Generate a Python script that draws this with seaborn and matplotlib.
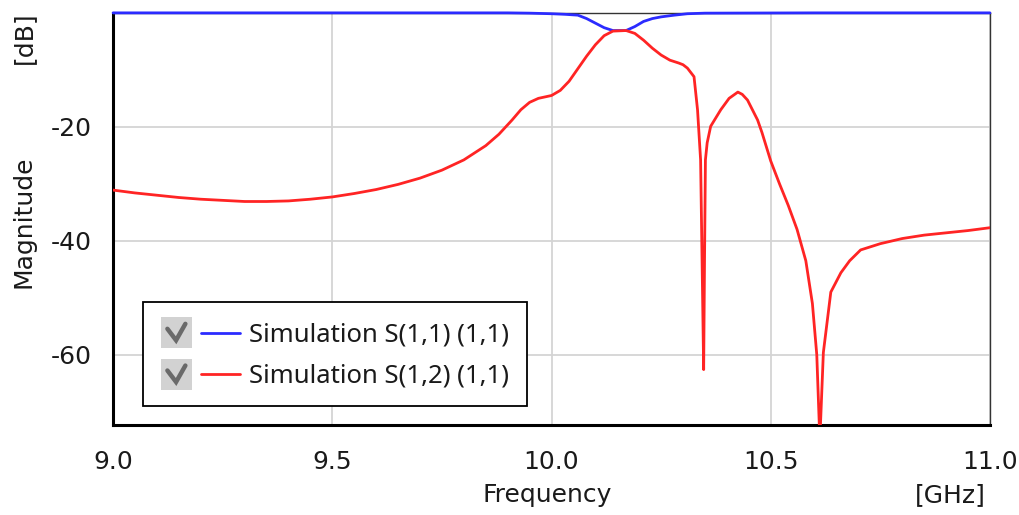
import numpy as np
import pandas as pd
import matplotlib
matplotlib.use('Agg')
import matplotlib.pyplot as plt
import seaborn as sns
from matplotlib.ticker import MultipleLocator
from matplotlib.legend_handler import HandlerBase
from matplotlib.patches import Rectangle
from matplotlib.lines import Line2D

# S(1,1) magnitude
freq_s11 = [9.00, 9.50, 9.90, 9.95, 10.00, 10.03, 10.06, 10.08, 10.10, 10.12, 10.14,
            10.17, 10.19, 10.21, 10.23, 10.25, 10.28, 10.31, 10.35, 10.60, 11.00]
mag_s11 = [0.0, 0.0, 0.0, -0.05, -0.15, -0.25, -0.4, -1.0, -1.8, -2.6, -3.1,
           -3.1, -2.4, -1.5, -1.0, -0.7, -0.4, -0.15, -0.05, 0.0, 0.0]

# S(1,2) magnitude
freq_s12 = [9.00, 9.05, 9.10, 9.15, 9.20, 9.25, 9.30, 9.35, 9.40, 9.45, 9.50, 9.55,
            9.60, 9.65, 9.70, 9.75, 9.80, 9.85, 9.88, 9.91, 9.93, 9.95, 9.97, 10.00,
            10.02, 10.04, 10.06, 10.08, 10.10, 10.12, 10.14, 10.17, 10.19, 10.21,
            10.23, 10.25, 10.27, 10.29, 10.30, 10.31, 10.325, 10.333, 10.340, 10.347,
            10.349, 10.351, 10.355, 10.363, 10.386, 10.405, 10.425, 10.435, 10.447,
            10.47, 10.48, 10.50, 10.52, 10.54, 10.56, 10.58, 10.595, 10.605, 10.612,
            10.62, 10.637, 10.66, 10.68, 10.705, 10.75, 10.80, 10.85, 10.90, 10.95, 11.00]
mag_s12 = [-31.1, -31.6, -32.0, -32.4, -32.7, -32.9, -33.1, -33.1, -33.0, -32.7, -32.3, -31.7,
           -31.0, -30.1, -29.0, -27.6, -25.8, -23.3, -21.3, -18.8, -17.0, -15.7, -15.0, -14.5,
           -13.6, -12.0, -9.8, -7.6, -5.6, -4.0, -3.2, -3.1, -3.6, -4.8,
           -6.2, -7.4, -8.3, -8.8, -9.1, -9.7, -11.2, -17.0, -25.8, -62.6,
           -43.0, -25.8, -22.8, -19.9, -17.0, -15.0, -13.9, -14.3, -15.3,
           -18.8, -21.0, -26.0, -30.0, -33.8, -38.0, -43.5, -51.0, -60.0, -75.0,
           -59.6, -49.0, -45.6, -43.5, -41.6, -40.5, -39.6, -39.0, -38.6, -38.2, -37.7]

labels = ['Simulation S(1,1) (1,1)', 'Simulation S(1,2) (1,1)']
colors = ['#2b2bff', '#ff2424']

df = pd.concat([
    pd.DataFrame({'Frequency': freq_s11, 'Magnitude': mag_s11, 'Trace': labels[0]}),
    pd.DataFrame({'Frequency': freq_s12, 'Magnitude': mag_s12, 'Trace': labels[1]}),
])

sns.set_style('white')
plt.rcParams['font.family'] = ['DejaVu Sans']


class CheckedLine(HandlerBase):
    # grey check box followed by the line sample
    def create_artists(self, legend, orig, xdescent, ydescent, width, height, fontsize, trans):
        box = 31 * 72 / 100.0
        cy = height / 2 - ydescent
        x0 = -xdescent
        rect = Rectangle((x0, cy - box / 2), box, box, facecolor='#d2d2d2',
                         edgecolor='none', transform=trans)
        tick = Line2D([x0 + box * 0.22, x0 + box * 0.5, x0 + box * 0.8],
                      [cy + box * 0.12, cy - box * 0.25, cy + box * 0.28],
                      color='#6a6a6a', lw=3.2, solid_joinstyle='miter', transform=trans)
        line = Line2D([x0 + box + 7, x0 + width], [cy, cy], color=orig.get_color(),
                      lw=2.0, transform=trans)
        return [rect, tick, line]


fig = plt.figure(figsize=(10.19, 5.15), dpi=100)
ax = fig.add_axes([0.111, 0.175, 0.8605, 0.8])

for lab, col in zip(labels, colors):
    sns.lineplot(data=df[df['Trace'] == lab], x='Frequency', y='Magnitude', ax=ax,
                 color=col, lw=2.0, estimator=None, sort=False, label=lab, zorder=3)
ax.get_lines()[0].set_clip_on(False)

ax.set_xlim(9.0, 11.0)
ax.set_ylim(-72.3, 0)
ax.xaxis.set_major_locator(MultipleLocator(0.5))
ax.xaxis.set_minor_locator(MultipleLocator(0.1))
ax.yaxis.set_major_locator(MultipleLocator(20))
ax.yaxis.set_minor_locator(MultipleLocator(4))
ax.xaxis.set_major_formatter(plt.FuncFormatter(lambda v, p: f'{v:.1f}'))
ax.yaxis.set_major_formatter(plt.FuncFormatter(lambda v, p: f'{v:.0f}'))
ax.set_yticks([-60, -40, -20])

ax.grid(True, which='major', color='#d4d4d4', lw=1.3)
ax.tick_params(axis='x', which='major', direction='in', length=5, width=1.5,
               labelsize=18, pad=18, colors='black')
ax.tick_params(axis='x', which='minor', direction='out', length=3, width=1, color='#808080')
ax.tick_params(axis='y', which='major', direction='out', length=6, width=1.5,
               labelsize=18, pad=9.5, colors='black')
ax.tick_params(axis='y', which='minor', direction='out', length=3, width=1, color='#808080')
ax.tick_params(labelcolor='#1a1a1a')

for side in ['left', 'bottom']:
    ax.spines[side].set_linewidth(2.2)
    ax.spines[side].set_color('black')
for side in ['top', 'right']:
    ax.spines[side].set_linewidth(1.0)
    ax.spines[side].set_color('#333333')

ax.set_xlabel('')
ax.set_ylabel('')
fig.text(547 / 1019, 1 - 495 / 515, 'Frequency', ha='center', va='center', fontsize=18, color='#1a1a1a')
fig.text(950 / 1019, 1 - 495 / 515, '[GHz]', ha='center', va='center', fontsize=18, color='#1a1a1a')
fig.text(24 / 1019, 1 - 222 / 515, 'Magnitude', ha='center', va='center', rotation=90, fontsize=18, color='#1a1a1a')
fig.text(24 / 1019, 1 - 38 / 515, '[dB]', ha='center', va='center', rotation=90, fontsize=18, color='#1a1a1a')

handles, labs = ax.get_legend_handles_labels()
leg = ax.legend(handles, labs, loc='upper left', bbox_to_anchor=(30 / 877, 123 / 412),
                handler_map={Line2D: CheckedLine()}, handlelength=3.1, handleheight=1.2,
                handletextpad=0.35, labelspacing=0.54, borderpad=0.68, borderaxespad=0,
                frameon=True, fancybox=False, prop={'family': 'Noto Sans', 'size': 18.5})
leg.get_frame().set_edgecolor('black')
leg.get_frame().set_linewidth(1.3)
leg.get_frame().set_alpha(1)
for t in leg.get_texts():
    t.set_color('#1a1a1a')

fig.savefig('out.png', dpi=100)
